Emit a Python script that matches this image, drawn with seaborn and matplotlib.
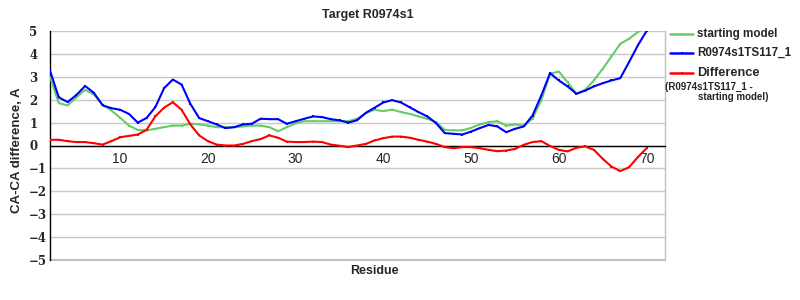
import matplotlib
matplotlib.use("Agg")
import matplotlib.pyplot as plt
from matplotlib.lines import Line2D
import seaborn as sns
import pandas as pd

# ---------------- data ----------------
residues = list(range(2, 71))

starting_model = [3.0, 1.85, 1.75, 2.1, 2.43, 2.23, 1.79, 1.53, 1.21, 0.87,
                  0.68, 0.66, 0.73, 0.8, 0.87, 0.87, 0.95, 0.92, 0.87, 0.8,
                  0.8, 0.8, 0.83, 0.87, 0.87, 0.8, 0.62, 0.8, 0.97, 1.06,
                  1.06, 1.06, 1.06, 1.06, 1.06, 1.17, 1.41, 1.56, 1.5, 1.57,
                  1.46, 1.38, 1.27, 1.17, 1.02, 0.68, 0.66, 0.66, 0.77, 0.92,
                  1.02, 1.06, 0.87, 0.92, 0.87, 1.17, 1.97, 3.13, 3.23, 2.76,
                  2.26, 2.43, 2.84, 3.35, 3.89, 4.44, 4.66, 4.95, 5.2]

model_ts117 = [3.27, 2.1, 1.9, 2.2, 2.6, 2.3, 1.75, 1.63, 1.56, 1.38,
               1.0, 1.2, 1.67, 2.5, 2.88, 2.66, 1.82, 1.2, 1.06, 0.92,
               0.76, 0.8, 0.92, 0.95, 1.17, 1.15, 1.15, 0.95, 1.06, 1.17,
               1.27, 1.24, 1.15, 1.1, 1.0, 1.1, 1.43, 1.65, 1.88, 1.98,
               1.88, 1.67, 1.46, 1.27, 0.98, 0.54, 0.51, 0.48, 0.61, 0.76,
               0.9, 0.83, 0.58, 0.73, 0.83, 1.31, 2.18, 3.16, 2.84, 2.58,
               2.26, 2.4, 2.58, 2.72, 2.84, 2.94, 3.64, 4.37, 5.0]

difference = [0.25, 0.25, 0.19, 0.15, 0.15, 0.1, 0.04, 0.19, 0.36, 0.42,
              0.48, 0.68, 1.27, 1.65, 1.89, 1.56, 0.92, 0.44, 0.19, 0.04,
              0.0, 0.0, 0.07, 0.19, 0.28, 0.44, 0.34, 0.17, 0.15, 0.15,
              0.17, 0.15, 0.04, -0.01, -0.07, 0.0, 0.07, 0.22, 0.32, 0.39,
              0.39, 0.34, 0.25, 0.17, 0.07, -0.07, -0.12, -0.07, -0.07, -0.12,
              -0.19, -0.25, -0.22, -0.15, 0.03, 0.15, 0.19, -0.02, -0.19, -0.26,
              -0.1, -0.04, -0.19, -0.58, -0.92, -1.12, -0.95, -0.51, -0.12]

series_names = ["starting model", "R0974s1TS117_1", "Difference"]
series_colors = ["#66cc66", "#0000ff", "#ff0000"]
x_ticks = [10, 20, 30, 40, 50, 60, 70]
y_ticks = [-5, -4, -3, -2, -1, 0, 1, 2, 3, 4, 5]

# ---------------- figure ----------------
sns.set_style("white")
plt.rcParams["font.family"] = ["Liberation Sans", "DejaVu Sans"]

W, H = 800, 300
fig = plt.figure(figsize=(8, 3), dpi=100)
ax = fig.add_axes([50 / W, 1 - 260 / H, 615 / W, 229 / H])

frames = []
for name, vals in zip(series_names, [starting_model, model_ts117, difference]):
    frames.append(pd.DataFrame({"Residue": residues, "value": vals, "series": name}))
df = pd.concat(frames, ignore_index=True)

for name, col in zip(series_names, series_colors):
    sub = df[df["series"] == name]
    sns.lineplot(data=sub, x="Residue", y="value", color=col, lw=1.5,
                 marker="s", markersize=1.6, markeredgewidth=0,
                 ax=ax, legend=False, zorder=3)

ax.set_xlim(2, 72.1)
ax.set_ylim(-5, 5)
ax.set_yticks(y_ticks)
ax.set_yticklabels([f"\u2212{abs(v)}" if v < 0 else str(v) for v in y_ticks],
                   fontweight="bold", fontsize=8.5, family="DejaVu Serif")
ax.set_xticks(x_ticks)
ax.set_xticklabels([str(v) for v in x_ticks], fontweight="bold", fontsize=8,
                   family="DejaVu Serif")
for lab in ax.get_yticklabels():
    lab.set_horizontalalignment("left")

ax.yaxis.grid(True, color="#c8c8c8", lw=1)
ax.xaxis.grid(False)
ax.set_axisbelow(True)

ax.spines["bottom"].set_position(("data", 0))
ax.spines["bottom"].set_color("black")
ax.spines["bottom"].set_linewidth(1)
ax.spines["left"].set_color("black")
ax.spines["left"].set_linewidth(1)
ax.spines["right"].set_color("#c0c0c0")
ax.spines["right"].set_linewidth(1)
ax.spines["top"].set_visible(False)
ax.axhline(-5, color="#c0c0c0", lw=1.5, zorder=1, clip_on=False)

ax.tick_params(axis="x", length=3, color="#b0b0b0", pad=2, direction="out")
ax.tick_params(axis="y", length=0, pad=15)

ax.set_xlabel("")
ax.set_ylabel("CA-CA difference, A", fontweight="bold", fontsize=9.5)
ax.yaxis.set_label_coords(-0.044, 0.48)

fig.text(374 / W, 1 - 271 / H, "Residue", ha="center", va="center",
         fontweight="bold", fontsize=9)
fig.text(368 / W, 1 - 15 / H, "Target R0974s1", ha="center", va="center",
         fontweight="bold", fontsize=9)

# ---------------- legend (manual) ----------------
rows = [34, 53, 73]
for name, col, yp in zip(series_names, series_colors, rows):
    yf = 1 - yp / H
    fig.add_artist(Line2D([670 / W, 693 / W], [yf, yf], transform=fig.transFigure,
                          color=col, lw=1.8))
    fig.add_artist(Line2D([681.5 / W], [yf], transform=fig.transFigure,
                          color=col, marker="s", markersize=1.8, markeredgewidth=0))
    fs = 9.2 if name == "Difference" else 8.4
    fig.text(697 / W, yf, name, ha="left", va="center", fontweight="bold", fontsize=fs)

fig.text(665 / W, 1 - 87 / H, "(R0974s1TS117_1 -", ha="left", va="center",
         fontweight="bold", fontsize=7)
fig.text(698 / W, 1 - 97.5 / H, "starting model)", ha="left", va="center",
         fontweight="bold", fontsize=7)

fig.savefig("out.png", dpi=100)
